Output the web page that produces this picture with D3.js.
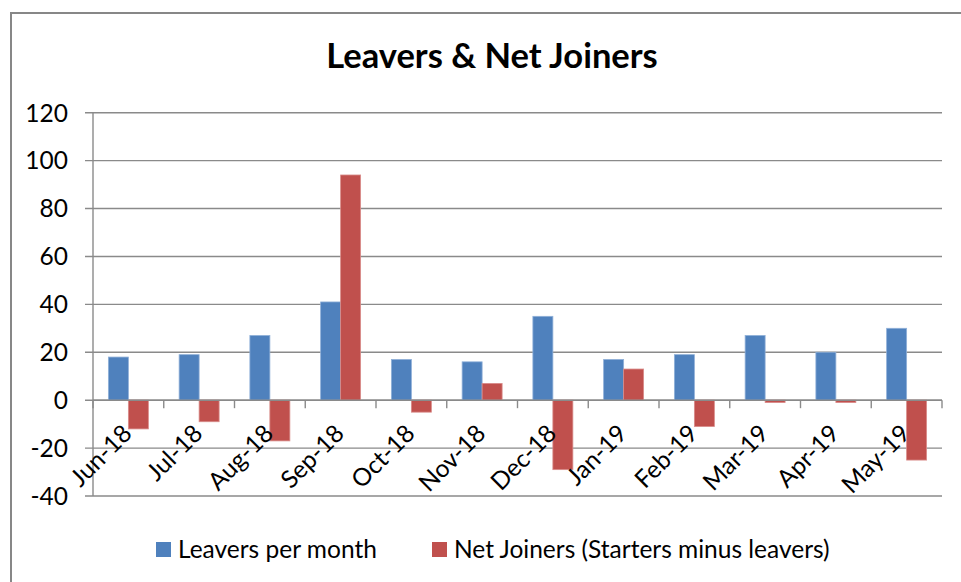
<!DOCTYPE html>
<html>
<head>
<meta charset="utf-8">
<script src="https://cdn.jsdelivr.net/npm/d3@7"></script>
<style>
  html, body { margin: 0; padding: 0; background: #fff; overflow: hidden; }
  svg { display: block; }
  svg text { font-family: Lato, "Open Sans", sans-serif; fill: #000; }
</style>
</head>
<body>
<svg id="chart" width="961" height="582"></svg>
<script>
// data
var months = ["Jun-18", "Jul-18", "Aug-18", "Sep-18", "Oct-18", "Nov-18",
              "Dec-18", "Jan-19", "Feb-19", "Mar-19", "Apr-19", "May-19"];
var leavers = [18, 19, 27, 41, 17, 16, 35, 17, 19, 27, 20, 30];
var netJoiners = [-12, -9, -17, 94, -5, 7, -29, 13, -11, -1, -1, -25];
var seriesNames = ["Leavers per month", "Net Joiners (Starters minus leavers)"];
var yTicks = [-40, -20, 0, 20, 40, 60, 80, 100, 120];

var svg = d3.select("#chart");
var gridColor = "#8a8a8a";
var colors = ["#4f81bd", "#c0504d"];

// outer chart border (runs off the right/bottom of the picture)
svg.append("rect")
    .attr("x", 11).attr("y", 13)
    .attr("width", 1000).attr("height", 620)
    .attr("fill", "none")
    .attr("stroke", "#878787")
    .attr("stroke-width", 2);

svg.append("text")
    .attr("x", 492).attr("y", 68)
    .attr("text-anchor", "middle")
    .style("font-size", "34.5px")
    .style("font-weight", "bold")
    .text("Leavers & Net Joiners");

var left = 93, right = 942;

var y = d3.scaleLinear().domain([-40, 120]).range([496, 112.7]);

var x0 = d3.scaleBand().domain(months).range([left, right])
    .paddingInner(0.435).paddingOuter(0.2175);
var x1 = d3.scaleBand().domain([0, 1]).range([0, x0.bandwidth()]);

// gridlines
svg.append("g").selectAll("line")
    .data(yTicks)
    .enter().append("line")
    .attr("x1", left - 8).attr("x2", right)
    .attr("y1", function(d) { return y(d); })
    .attr("y2", function(d) { return y(d); })
    .attr("stroke", gridColor)
    .attr("stroke-width", 1.4);

// y axis line
svg.append("line")
    .attr("x1", left).attr("x2", left)
    .attr("y1", y(120)).attr("y2", y(-40))
    .attr("stroke", gridColor).attr("stroke-width", 1.4);

svg.append("g").selectAll("text")
    .data(yTicks)
    .enter().append("text")
    .attr("x", 68)
    .attr("y", function(d) { return y(d); })
    .attr("dy", "0.36em")
    .attr("text-anchor", "end")
    .style("font-size", "24.5px")
    .text(function(d) { return d; });

// bars
var groups = svg.append("g").selectAll("g")
    .data(months)
    .enter().append("g")
    .attr("transform", function(d) { return "translate(" + x0(d) + ",0)"; });

groups.selectAll("rect")
    .data(function(d, i) { return [leavers[i], netJoiners[i]]; })
    .enter().append("rect")
    .attr("x", function(d, j) { return x1(j); })
    .attr("y", function(d) { return y(Math.max(0, d)); })
    .attr("width", x1.bandwidth())
    .attr("height", function(d) { return Math.abs(y(d) - y(0)); })
    .attr("fill", function(d, j) { return colors[j]; })
    .attr("stroke", function(d, j) { return j ? "#d98c8a" : "#8fb0d8"; })
    .attr("stroke-width", 0.8);

// category axis on the zero line
svg.append("line")
    .attr("x1", left).attr("x2", right)
    .attr("y1", y(0)).attr("y2", y(0))
    .attr("stroke", gridColor).attr("stroke-width", 1.4);

var step = x0.step();
svg.append("g").selectAll("line")
    .data(d3.range(months.length + 1))
    .enter().append("line")
    .attr("x1", function(i) { return left + i * step; })
    .attr("x2", function(i) { return left + i * step; })
    .attr("y1", y(0)).attr("y2", y(0) + 8)
    .attr("stroke", gridColor).attr("stroke-width", 1.4);

svg.append("g").selectAll("text")
    .data(months)
    .enter().append("text")
    .attr("text-anchor", "end")
    .attr("transform", function(d) {
        var cx = x0(d) + x0.bandwidth() / 2;
        return "translate(" + (cx + 5) + "," + 435 + ") rotate(-45)";
    })
    .style("font-size", "24.5px")
    .text(function(d) { return d; });

// legend
var legendX = [156, 432];
var legend = svg.append("g").selectAll("g")
    .data(seriesNames)
    .enter().append("g")
    .attr("transform", function(d, i) { return "translate(" + legendX[i] + ",542)"; });

legend.append("rect")
    .attr("width", 15).attr("height", 15)
    .attr("fill", function(d, i) { return colors[i]; });

legend.append("text")
    .attr("x", 22).attr("y", 15.5)
    .style("font-size", "24.5px")
    .text(function(d) { return d; });
</script>
</body>
</html>
